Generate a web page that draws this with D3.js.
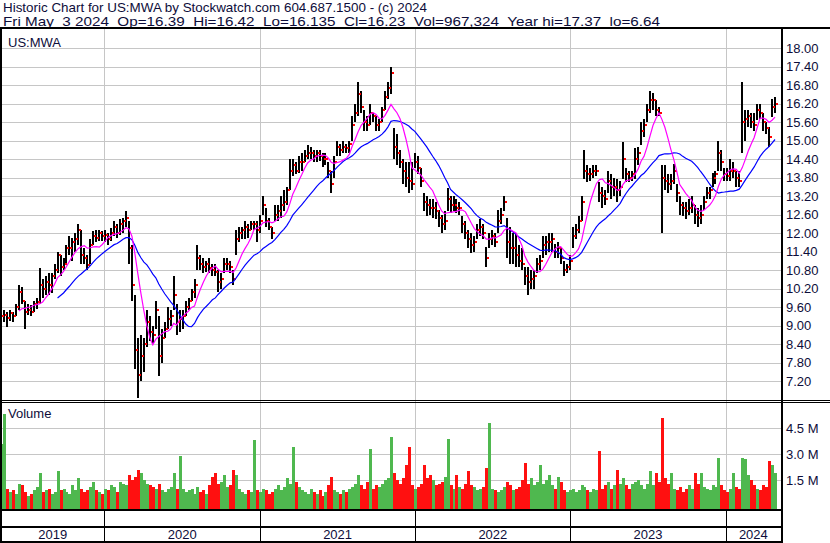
<!DOCTYPE html>
<html><head><meta charset="utf-8">
<script src="https://cdn.jsdelivr.net/npm/d3@7"></script>
<style>
html,body{margin:0;padding:0;background:#fff;}
svg{display:block;font-family:"Liberation Sans",Arial,sans-serif;}
</style></head><body>
<svg id="c" width="830" height="543"></svg>
<script>
// ---- data (weekly bars) ----
const startDate = "2019-05-03";
const endDate = "2024-05-03";
const high = [
9.55,9.5,9.45,9.5,9.45,9.7,10.3,10.25,9.8,9.7,
9.65,9.8,9.9,10.85,10.5,10.6,10.7,10.7,11.0,11.4,
11.3,11.2,11.6,11.9,11.85,12.0,12.3,12.1,11.5,11.3,
11.8,12.05,12.1,12.1,12.05,12.1,12.0,12.15,12.4,12.3,
12.45,12.5,12.7,12.4,11.6,10.0,8.6,8.7,8.6,9.5,
9.3,9.0,9.8,9.3,8.9,9.1,9.6,9.5,10.6,9.7,
9.5,9.5,9.8,9.9,10.2,10.5,11.6,11.3,11.2,11.1,
11.2,11.0,11.0,10.8,10.7,11.2,11.2,11.1,10.8,12.1,
12.2,12.2,12.4,12.3,12.4,12.4,12.4,12.6,13.2,12.8,
12.5,12.2,12.9,12.9,13.2,13.4,13.5,14.4,14.4,14.3,
14.5,14.6,14.7,14.85,14.8,14.7,14.7,14.7,14.6,14.6,
14.3,14.0,14.5,15.0,14.9,15.0,14.9,15.0,15.8,16.2,
16.9,16.6,16.0,15.8,16.2,15.9,15.8,15.7,16.1,16.6,
16.9,17.37,15.4,15.2,14.7,14.4,14.3,14.3,14.3,14.6,
14.5,14.1,13.3,13.2,13.1,13.1,13.0,12.75,12.6,12.7,
13.45,13.2,13.2,13.1,13.0,12.55,12.4,12.1,12.0,11.9,
12.3,12.45,12.3,11.55,12.0,12.1,12.0,12.75,12.8,13.2,
12.5,12.2,12.0,12.0,11.6,11.5,10.9,10.9,10.8,10.8,
11.2,11.3,11.9,11.9,12.0,12.0,11.65,11.7,11.5,11.1,
11.0,11.3,12.2,12.3,12.55,13.2,14.7,14.2,14.1,14.2,
14.2,13.65,13.5,13.4,14.0,13.9,13.8,13.75,13.7,14.95,
14.1,14.0,14.0,14.75,14.8,15.6,15.7,16.2,16.6,16.55,
16.3,16.1,14.2,14.2,13.9,13.9,14.25,13.6,13.2,13.0,
13.0,13.1,13.2,12.9,12.8,12.9,13.2,13.5,13.5,13.95,
14.0,15.0,14.7,14.1,14.1,14.4,14.3,14.0,14.0,16.9,
16.0,16.0,15.9,15.9,16.2,16.2,15.9,15.6,15.45,16.35,
16.4];
const low = [
9.05,9.1,8.95,9.15,9.1,9.3,9.5,9.7,8.9,9.35,
9.3,9.45,9.55,9.7,9.9,10.0,10.0,10.05,10.5,10.7,
10.6,10.8,11.0,11.3,11.1,11.4,11.6,11.0,11.0,10.8,
11.0,11.6,11.7,11.75,11.75,11.7,11.6,11.75,11.9,11.85,
11.95,12.0,12.2,11.0,9.8,7.6,6.64,7.2,7.5,8.3,
8.5,8.4,8.9,7.35,7.8,8.6,8.9,9.0,9.5,8.7,
8.8,8.9,9.3,9.5,9.8,9.9,10.8,10.8,10.7,10.75,
10.7,10.6,10.6,10.1,10.2,10.7,10.8,10.7,10.3,11.3,
11.7,11.8,11.8,11.85,12.1,12.1,11.7,12.0,12.6,12.2,
12.1,11.8,12.4,12.4,12.5,12.7,12.9,13.4,13.85,13.9,
13.95,14.0,14.3,14.4,14.4,14.3,14.3,14.35,14.15,14.2,
13.8,13.3,13.8,14.5,14.5,14.6,14.6,14.6,15.0,15.6,
15.8,15.9,15.3,15.3,15.5,15.6,15.3,15.3,15.6,16.0,
16.35,16.5,14.4,14.2,14.1,13.6,13.5,13.3,13.4,14.1,
13.9,13.5,12.7,12.55,12.6,12.5,12.45,12.2,12.0,12.1,
12.7,12.65,12.7,12.65,12.6,12.0,11.8,11.5,11.35,11.4,
11.8,11.9,11.8,10.9,11.5,11.6,11.55,12.0,12.3,12.7,
11.2,11.0,11.0,10.9,10.9,10.8,10.3,10.0,10.2,10.2,
10.7,10.8,11.2,11.3,11.4,11.4,11.2,11.2,11.0,10.6,
10.7,10.8,11.5,11.8,12.0,12.4,13.75,13.65,13.7,13.8,
13.85,13.0,12.8,12.9,13.3,13.1,13.2,13.0,13.2,13.75,
13.65,13.65,13.7,13.75,14.2,14.85,15.1,15.6,15.9,16.0,
15.8,15.8,12.0,13.4,13.3,13.4,13.6,13.0,12.6,12.55,
12.45,12.6,12.65,12.3,12.2,12.3,12.75,13.1,13.1,13.5,
13.6,14.0,14.0,13.7,13.7,13.7,13.8,13.5,13.5,14.6,
15.0,15.45,15.4,15.3,15.65,15.7,15.3,15.2,14.8,15.75,
15.9];
const close = [
9.3,9.35,9.25,9.4,9.3,9.6,10.1,9.8,9.45,9.5,
9.45,9.7,9.75,10.3,10.2,10.4,10.3,10.6,10.8,11.3,
10.9,11.0,11.5,11.5,11.7,11.8,12.1,11.3,11.2,10.95,
11.6,11.9,11.85,12.0,11.9,11.95,11.8,12.0,12.2,12.0,
12.3,12.4,12.5,11.5,10.3,8.2,7.4,8.0,8.4,9.1,
8.8,8.7,9.5,8.0,8.6,8.9,9.2,9.3,10.0,9.1,
9.2,9.3,9.6,9.8,10.1,10.3,11.2,11.0,10.9,11.0,
10.85,10.8,10.75,10.4,10.5,11.0,11.0,10.9,10.5,11.8,
12.0,12.1,12.2,12.1,12.3,12.3,12.1,12.4,12.9,12.4,
12.2,12.0,12.6,12.7,12.9,13.0,13.4,14.0,14.2,14.0,
14.3,14.3,14.5,14.6,14.6,14.5,14.6,14.5,14.4,14.4,
14.0,13.6,14.3,14.8,14.7,14.8,14.75,14.9,15.5,15.9,
16.5,16.1,15.6,15.5,15.9,15.8,15.5,15.6,16.0,16.4,
16.7,17.2,14.8,14.6,14.3,14.0,13.8,13.7,13.6,14.3,
14.1,13.7,13.0,12.9,12.8,12.8,12.7,12.5,12.3,12.4,
13.1,12.9,12.9,12.8,12.8,12.3,12.0,11.8,11.6,11.7,
12.1,12.2,12.0,11.2,11.8,11.9,11.7,12.4,12.6,13.0,
11.7,11.5,11.5,11.3,11.1,11.0,10.6,10.4,10.5,10.6,
11.0,11.1,11.6,11.7,11.7,11.8,11.4,11.5,11.2,10.8,
10.9,11.1,11.9,12.1,12.4,13.0,14.0,13.9,13.9,14.0,
14.0,13.3,13.2,13.1,13.7,13.5,13.5,13.4,13.5,14.4,
13.9,13.8,13.9,14.4,14.6,15.3,15.5,16.0,16.3,16.3,
16.0,15.9,13.8,13.7,13.6,13.7,14.0,13.3,12.9,12.8,
12.7,12.8,12.9,12.6,12.5,12.6,13.0,13.3,13.4,13.8,
13.9,14.6,14.3,13.9,13.85,14.0,14.0,13.8,13.7,15.6,
15.7,15.8,15.6,15.5,16.0,15.9,15.6,15.4,15.1,16.1,
16.2];
const volumeM = [
3.6,5.3,1.0,0.8,0.9,0.7,1.3,1.2,0.8,0.6,
0.7,0.9,1.1,1.9,0.8,0.9,1.0,0.7,0.8,2.0,
0.9,1.0,0.8,0.7,1.2,0.9,1.6,1.0,0.8,0.9,
1.1,1.4,0.9,0.8,0.7,1.0,0.9,1.2,1.1,0.8,
1.4,1.3,1.2,1.8,1.5,1.7,2.1,1.9,1.5,1.3,
1.2,1.1,1.0,1.3,0.9,0.8,1.0,1.1,1.9,1.0,
2.9,1.0,0.8,0.9,1.0,0.7,1.1,0.8,0.9,0.7,
1.2,1.7,1.9,1.3,1.4,1.8,1.1,1.2,2.1,1.8,
1.0,0.8,0.7,0.9,0.8,3.8,0.9,0.8,1.0,0.9,
0.7,0.8,1.0,1.2,0.9,1.1,1.6,1.3,3.4,1.4,
1.1,0.9,0.8,0.7,1.0,0.8,0.7,0.9,0.6,0.8,
1.2,1.7,0.9,0.8,0.7,0.9,0.8,1.0,1.1,1.3,
1.8,1.2,1.0,1.4,3.3,1.0,1.2,1.1,1.3,1.5,
1.6,4.0,1.9,1.5,1.3,1.6,2.4,3.4,1.2,1.0,
1.1,1.3,2.4,1.6,1.8,1.5,1.2,1.3,1.4,1.7,
3.9,1.2,1.0,1.8,1.1,1.0,1.3,2.0,1.2,1.1,
0.9,1.0,1.1,2.2,4.8,1.0,0.9,0.8,0.9,1.1,
1.4,1.2,0.9,1.0,1.1,1.5,2.5,1.3,1.6,1.2,
1.4,2.4,1.3,1.5,1.8,1.2,1.0,1.7,1.4,0.9,
0.8,0.9,1.0,0.8,0.9,1.2,1.1,0.9,0.8,1.0,
0.9,3.2,1.0,1.2,1.4,1.0,1.2,2.1,1.3,1.6,
1.2,1.0,1.3,1.4,1.5,1.2,1.0,1.3,2.0,1.2,
1.9,1.4,5.1,1.6,1.3,1.9,1.0,0.9,1.1,0.8,
1.0,1.2,1.0,1.9,1.3,1.9,1.1,1.0,0.9,1.2,
1.1,2.8,1.2,0.9,0.8,1.0,1.9,1.1,1.0,2.8,
2.7,1.8,1.5,1.2,1.0,0.9,1.2,1.1,2.6,2.4,
1.9];
const priceTicks = [18.00,17.40,16.80,16.20,15.60,15.00,14.40,13.80,13.20,12.60,12.00,11.40,10.80,10.20,9.60,9.00,8.40,7.80,7.20];
const volumeTicks = [1.5,3.0,4.5];
const shortMAWindow = 7, longMAWindow = 20;
const symbol = "US:MWA";
const headerLine1 = "Historic Chart for US:MWA by Stockwatch.com 604.687.1500 - (c) 2024";
const headerLine2 = "Fri May  3 2024  Op=16.39  Hi=16.42  Lo=16.135  Cl=16.23  Vol=967,324  Year hi=17.37  lo=6.64";

// ---- drawing ----
const svg = d3.select("#c");
const W = 830, plotL = 1, plotR = 781;
const priceTop = 29, priceBot = 400, volTop = 403, volBot = 509;
const txtColor = "#0d0d3a", gridColor = "#c6c6c6";

const parse = d3.timeParse("%Y-%m-%d");
const t0 = parse(startDate), t1 = parse(endDate);
const dates = close.map((_, i) => d3.timeDay.offset(t0, 7 * i));
const x = d3.scaleTime().domain([t0, t1]).range([1, 778]);
const y = d3.scaleLinear().domain([7.2, 18]).range([381, 48]);
const yv = d3.scaleLinear().domain([0, 4.5]).range([506, 428.3]);

svg.append("rect").attr("width", W).attr("height", 543).attr("fill", "#fff");

// header
const hdr = svg.append("g").attr("fill", txtColor).style("font-size", "13px").style("white-space", "pre");
hdr.append("text").attr("x", 3).attr("y", 11.5).attr("xml:space", "preserve")
  .attr("textLength", 424).attr("lengthAdjust", "spacingAndGlyphs").text(headerLine1);
hdr.append("text").attr("x", 3).attr("y", 26.3).attr("xml:space", "preserve")
  .attr("textLength", 657).attr("lengthAdjust", "spacingAndGlyphs").text(headerLine2);

// grids
const yearBounds = d3.timeYear.range(d3.timeYear.ceil(t0), t1);
const grid = svg.append("g").attr("stroke", gridColor).attr("shape-rendering", "crispEdges");
grid.selectAll(".hp").data(priceTicks).join("line")
  .attr("x1", plotL + 1).attr("x2", plotR).attr("y1", d => Math.round(y(d)) + 0.5).attr("y2", d => Math.round(y(d)) + 0.5);
grid.selectAll(".hv").data(volumeTicks).join("line").attr("class", "hv")
  .attr("x1", plotL + 1).attr("x2", plotR).attr("y1", d => Math.round(yv(d)) + 0.5).attr("y2", d => Math.round(yv(d)) + 0.5);
grid.selectAll(".vy").data(yearBounds).join("line").attr("class", "vy")
  .attr("x1", d => Math.round(x(d)) + 0.5).attr("x2", d => Math.round(x(d)) + 0.5)
  .attr("y1", priceTop).attr("y2", volBot);

// clip
svg.append("clipPath").attr("id", "pc").append("rect").attr("x", plotL + 1).attr("y", priceTop).attr("width", plotR - plotL - 1).attr("height", priceBot - priceTop);
svg.append("clipPath").attr("id", "vc").append("rect").attr("x", plotL + 1).attr("y", volTop).attr("width", plotR - plotL - 1).attr("height", volBot - volTop);

// volume bars
const vg = svg.append("g").attr("clip-path", "url(#vc)").attr("shape-rendering", "crispEdges");
vg.selectAll("rect").data(volumeM).join("rect")
  .attr("x", (d, i) => Math.round(x(dates[i])) - 1)
  .attr("width", 3)
  .attr("y", d => yv(d))
  .attr("height", d => volBot - yv(d))
  .attr("fill", (d, i) => (i > 0 && close[i] < close[i - 1]) ? "#ff1010" : "#4fb84f");

// price bars
const pg = svg.append("g").attr("clip-path", "url(#pc)").attr("shape-rendering", "crispEdges");
pg.selectAll("rect.b").data(close).join("rect").attr("class", "b")
  .attr("x", (d, i) => Math.round(x(dates[i])) - 1)
  .attr("width", 2)
  .attr("y", (d, i) => y(high[i]))
  .attr("height", (d, i) => Math.max(1, y(low[i]) - y(high[i])))
  .attr("fill", "#000");
pg.selectAll("rect.c").data(close).join("rect").attr("class", "c")
  .attr("x", (d, i) => Math.round(x(dates[i])) + 1)
  .attr("width", 2)
  .attr("y", d => Math.round(y(d)) - 1)
  .attr("height", 2)
  .attr("fill", "#ff0000");

// moving averages
function sma(arr, n) {
  return arr.map((_, i) => i < n - 1 ? null : d3.mean(arr.slice(i - n + 1, i + 1)));
}
const maShort = sma(close, shortMAWindow), maLong = sma(close, longMAWindow);
const line = d3.line().defined(d => d != null).x((d, i) => x(dates[i])).y(d => y(d));
const mg = svg.append("g").attr("clip-path", "url(#pc)").attr("fill", "none").attr("stroke-width", 1.2);
mg.append("path").attr("d", line(maLong)).attr("stroke", "#0000ff");
mg.append("path").attr("d", line(maShort)).attr("stroke", "#ff00ff");

// frame lines
const fr = svg.append("g").attr("stroke", "#000").attr("shape-rendering", "crispEdges");
fr.append("line").attr("x1", 0).attr("x2", W).attr("y1", 28).attr("y2", 28).attr("stroke-width", 2);
fr.append("line").attr("x1", 1).attr("x2", 1).attr("y1", 28).attr("y2", 543).attr("stroke-width", 2);
fr.append("line").attr("x1", plotR + 0.5).attr("x2", plotR + 0.5).attr("y1", 28).attr("y2", 543).attr("stroke-width", 2);
fr.append("line").attr("x1", 0).attr("x2", W).attr("y1", priceBot + 0.5).attr("y2", priceBot + 0.5);
fr.append("line").attr("x1", 0).attr("x2", W).attr("y1", volTop - 0.5).attr("y2", volTop - 0.5);
fr.append("line").attr("x1", 0).attr("x2", plotR).attr("y1", volBot + 1).attr("y2", volBot + 1).attr("stroke-width", 2);
fr.append("line").attr("x1", 0).attr("x2", plotR).attr("y1", 526.5).attr("y2", 526.5).attr("stroke-width", 2);
fr.append("line").attr("x1", 0).attr("x2", plotR).attr("y1", 542).attr("y2", 542).attr("stroke-width", 2);
fr.selectAll(".yb").data(yearBounds).join("line").attr("class", "yb")
  .attr("x1", d => Math.round(x(d)) + 0.5).attr("x2", d => Math.round(x(d)) + 0.5)
  .attr("y1", volBot + 2).attr("y2", 542);

// year labels
const segs = [t0, ...yearBounds, null];
const yearG = svg.append("g").attr("fill", txtColor).style("font-size", "13px").attr("text-anchor", "middle");
for (let k = 0; k < segs.length - 1; k++) {
  const a = k === 0 ? plotL : x(segs[k]);
  const b = segs[k + 1] ? x(segs[k + 1]) : plotR;
  yearG.append("text").attr("x", (a + b) / 2).attr("y", 539).text(d3.timeFormat("%Y")(segs[k]));
}

// axis labels
const ax = svg.append("g").attr("fill", txtColor).style("font-size", "13px");
ax.selectAll(".pt").data(priceTicks).join("text").attr("class", "pt")
  .attr("x", 786).attr("y", d => y(d)).attr("dy", "0.36em").text(d => d3.format(".2f")(d));
ax.selectAll(".vt").data(volumeTicks).join("text").attr("class", "vt")
  .attr("x", 786).attr("y", d => yv(d)).attr("dy", "0.36em").text(d => d3.format(".1f")(d) + " M");

// panel titles
svg.append("text").attr("x", 8).attr("y", 47).attr("fill", txtColor).style("font-size", "13px").text(symbol);
svg.append("text").attr("x", 8).attr("y", 418).attr("fill", txtColor).style("font-size", "13px").text("Volume");
</script>
</body></html>
